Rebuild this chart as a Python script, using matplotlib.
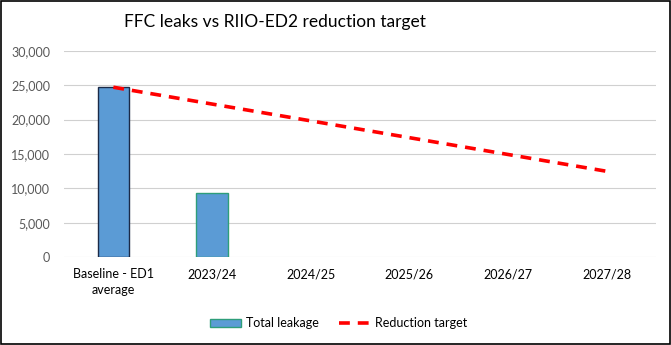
import matplotlib
matplotlib.use("Agg")
import matplotlib.pyplot as plt
from matplotlib.patches import Rectangle, Patch
from matplotlib.lines import Line2D

categories = ["Baseline - ED1\naverage", "2023/24", "2024/25", "2025/26", "2026/27", "2027/28"]
leakage = [24700, 9300]
target = [24700, 22260, 19820, 17380, 14940, 12500]
yticks = [0, 5000, 10000, 15000, 20000, 25000, 30000]

plt.rcParams['font.family'] = ['Lato', 'DejaVu Sans']

fig = plt.figure(figsize=(6.71, 3.45), dpi=100)
ax = fig.add_axes([0.0954, 0.254, 0.882, 0.599])

x = list(range(len(categories)))
edges = ["#1B2A47", "#2E9E7A"]
ax.bar(x[:len(leakage)], leakage, width=0.315, color="#5B9BD5",
       edgecolor=edges, linewidth=1.0, zorder=3)
ax.plot(x, target, color="#FF0000", linestyle=(0, (3, 2.2)), linewidth=2.6, zorder=4)

ax.set_xlim(-0.5, len(categories) - 0.5)
ax.set_ylim(0, 30000)
ax.set_yticks(yticks)
ax.set_yticklabels([f"{v:,}" for v in yticks])
ax.set_xticks(x)
ax.set_xticklabels(categories, linespacing=1.35)
ax.tick_params(axis='both', length=0, labelsize=9, colors="#595959", pad=6)
ax.tick_params(axis='x', labelcolor="#000000", pad=8)
ax.tick_params(axis='y', pad=10)
for s in ax.spines.values():
    s.set_visible(False)
ax.grid(axis='y', color="#D0D0D0", linewidth=0.8, zorder=0)
ax.set_axisbelow(True)

fig.text(0.41, 0.935, "FFC leaks vs RIIO-ED2 reduction target", ha="center", va="center",
         fontsize=12.5, color="#000000")

handles = [Patch(facecolor="#5B9BD5", edgecolor="#2E9E7A", linewidth=1.0),
           Line2D([0], [0], color="#FF0000", linestyle=(0, (3, 2.2)), linewidth=2.6)]
fig.legend(handles, ["Total leakage", "Reduction target"], loc="center",
           bbox_to_anchor=(0.505, 0.063), ncol=2, frameon=False, fontsize=9,
           handlelength=2.5, handletextpad=0.4, columnspacing=1.6)

fig.patches.append(Rectangle((0.001, 0.002), 0.997, 0.995, transform=fig.transFigure,
                             fill=False, edgecolor="black", linewidth=1.2))

fig.savefig("out.png", dpi=100)
